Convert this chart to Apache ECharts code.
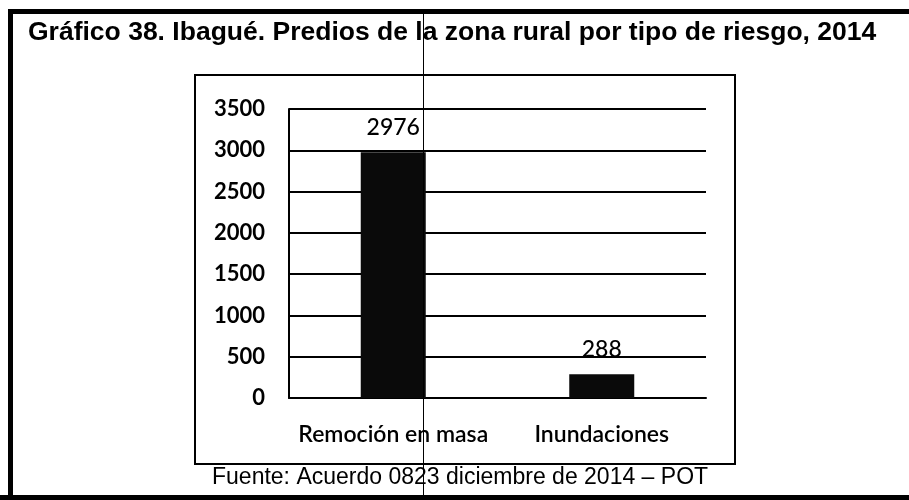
<!DOCTYPE html>
<html>
<head>
<meta charset="utf-8">
<script src="https://cdn.jsdelivr.net/npm/echarts@6/dist/echarts.min.js"></script>
<style>html,body{margin:0;padding:0;background:#fff;}#c{width:909px;height:500px;}</style>
</head>
<body>
<div id="c"></div>
<script>
var titleText = 'Gráfico 38. Ibagué. Predios de la zona rural por tipo de riesgo, 2014';
var sourceText = 'Fuente: Acuerdo 0823 diciembre de 2014 – POT';
var categories = ['Remoción en masa', 'Inundaciones'];
var values = [2976, 288];
var yMin = 0, yMax = 3500, yStep = 500;

var chart = echarts.init(document.getElementById('c'), null, {renderer: 'canvas'});
var labelFont = 'Lato, "Open Sans", sans-serif';
chart.setOption({
  backgroundColor: '#fff',
  animation: false,
  title: {
    text: titleText,
    left: 28, top: 19, padding: 0,
    textStyle: {fontFamily: '"Liberation Sans", Arial, sans-serif', fontWeight: 'bold', fontSize: 26.5, color: '#000'}
  },
  grid: {left: 289, right: 203, top: 109, bottom: 102},
  xAxis: {
    type: 'category',
    data: categories,
    axisLine: {show: true, lineStyle: {color: '#000', width: 2}},
    axisTick: {show: false},
    axisLabel: {interval: 0, margin: 25, color: '#000', fontFamily: labelFont, fontSize: 23, fontWeight: 600}
  },
  yAxis: {
    type: 'value',
    min: yMin, max: yMax, interval: yStep,
    axisLine: {show: true, lineStyle: {color: '#000', width: 2}},
    axisTick: {show: false},
    splitLine: {show: true, lineStyle: {color: '#000', width: 2}},
    axisLabel: {margin: 24, color: '#000', fontFamily: labelFont, fontSize: 22, fontWeight: 'bold',
      formatter: function (v) { return String(v); }}
  },
  series: [{
    type: 'bar',
    data: values,
    barWidth: 65,
    itemStyle: {color: '#0a0a0a'},
    label: {show: true, position: 'top', distance: 13, color: '#000', fontFamily: labelFont, fontSize: 23, fontWeight: 500}
  }],
  graphic: [
    {type: 'rect', shape: {x: 195, y: 75, width: 540, height: 389}, style: {fill: 'none', stroke: '#000', lineWidth: 2}, silent: true},
    {type: 'rect', shape: {x: 8, y: 9, width: 5, height: 491}, style: {fill: '#000'}, silent: true},
    {type: 'rect', shape: {x: 8, y: 9, width: 901, height: 5}, style: {fill: '#000'}, silent: true},
    {type: 'rect', shape: {x: 0, y: 495, width: 909, height: 5}, style: {fill: '#000'}, silent: true},
    {type: 'line', shape: {x1: 423.5, y1: 12, x2: 423.5, y2: 495}, style: {stroke: '#000', lineWidth: 1}, silent: true, z: 100},
    {type: 'text', left: 212, top: 466, style: {text: sourceText, fill: '#000', font: '23px "Liberation Sans", Arial, sans-serif'}, silent: true}
  ]
});
</script>
</body>
</html>
